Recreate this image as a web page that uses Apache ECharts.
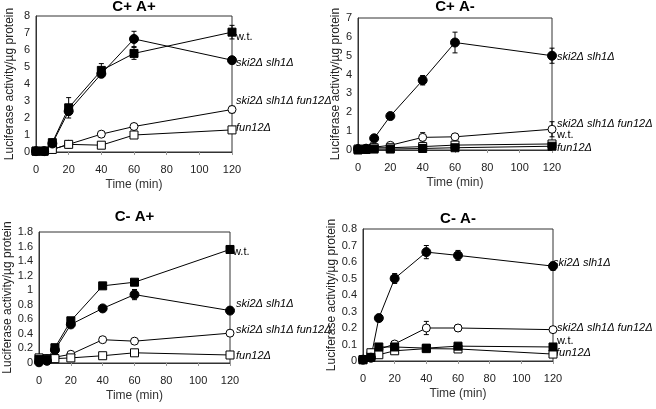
<!DOCTYPE html>
<html>
<head>
<meta charset="utf-8">
<script src="https://cdn.jsdelivr.net/npm/echarts@6/dist/echarts.min.js"></script>
<style>
html,body{margin:0;padding:0;background:#fff}
#main{width:656px;height:409px}
</style>
</head>
<body>
<div id="main"></div>
<script>
// sampling times (min), shared by all panels
const times = [0, 5, 10, 20, 40, 60, 120];

// C+ A+
const cpapWt = [0.05, 0.05, 0.55, 2.6, 4.8, 5.8, 7.05];
const cpapWtErr = [0, 0, 0.1, 0.6, 0.4, 0.35, 0.4];
const cpapSki = [0.05, 0.05, 0.5, 2.4, 4.6, 6.65, 5.4];
const cpapSkiErr = [0, 0, 0.05, 0.2, 0.15, 0.45, 0.15];
const cpapSkiFun = [0.05, 0.05, 0.15, 0.45, 1.05, 1.5, 2.5];
const cpapSkiFunErr = [0, 0, 0.05, 0.1, 0.1, 0.1, 0.2];
const cpapFun = [0.05, 0.05, 0.15, 0.45, 0.4, 1.0, 1.3];
const cpapFunErr = [0, 0, 0.05, 0.1, 0.1, 0.15, 0.15];

// C+ A-
const cpamWt = [0.0, 0.03, 0.05, 0.05, 0.08, 0.12, 0.2];
const cpamWtErr = [0, 0, 0.02, 0.02, 0.03, 0.03, 0.05];
const cpamSki = [0.05, 0.05, 0.62, 1.8, 3.7, 5.7, 5.0];
const cpamSkiErr = [0, 0, 0.05, 0.1, 0.25, 0.55, 0.4];
const cpamSkiFun = [0.05, 0.1, 0.15, 0.25, 0.67, 0.7, 1.1];
const cpamSkiFunErr = [0, 0, 0.05, 0.05, 0.25, 0.15, 0.4];
const cpamFun = [0.05, 0.05, 0.12, 0.12, 0.18, 0.26, 0.32];
const cpamFunErr = [0, 0, 0.02, 0.02, 0.03, 0.03, 0.05];

// C- A+
const cmapWt = [0.05, 0.05, 0.21, 0.58, 1.06, 1.11, 1.56];
const cmapWtErr = [0, 0, 0.03, 0.02, 0.03, 0.03, 0.05];
const cmapSki = [0.01, 0.03, 0.18, 0.53, 0.75, 0.94, 0.72];
const cmapSkiErr = [0, 0, 0.02, 0.02, 0.04, 0.07, 0.04];
const cmapSkiFun = [0.05, 0.06, 0.08, 0.12, 0.32, 0.30, 0.41];
const cmapSkiFunErr = [0, 0, 0.01, 0.02, 0.02, 0.02, 0.02];
const cmapFun = [0.07, 0.06, 0.06, 0.07, 0.1, 0.14, 0.11];
const cmapFunErr = [0, 0, 0.01, 0.01, 0.01, 0.01, 0.01];

// C- A-
const cmamWt = [0.008, 0.022, 0.085, 0.085, 0.078, 0.09, 0.085];
const cmamWtErr = [0, 0, 0.005, 0.005, 0.005, 0.005, 0.005];
const cmamSki = [0.008, 0.02, 0.26, 0.5, 0.66, 0.64, 0.575];
const cmamSkiErr = [0, 0, 0.01, 0.03, 0.04, 0.03, 0.025];
const cmamSkiFun = [0.008, 0.05, 0.07, 0.103, 0.2, 0.2, 0.19];
const cmamSkiFunErr = [0, 0, 0.01, 0.01, 0.04, 0.02, 0.015];
const cmamFun = [0.008, 0.05, 0.038, 0.062, 0.075, 0.073, 0.042];
const cmamFunErr = [0, 0, 0.005, 0.005, 0.01, 0.01, 0.01];

const panelTitles = ['C+ A+', 'C+ A-', 'C- A+', 'C- A-'];
const yMax = [8, 7, 1.8, 0.8];
const yStep = [1, 1, 0.2, 0.1];

const FONT = '"Liberation Sans", Arial, sans-serif';

// where each panel sits (pixels)
const boxes = [
	{left: 36, top: 16, width: 196, height: 136, yGap: 20, titleTop: -1},
	{left: 358, top: 18, width: 194, height: 132, yGap: 15, titleTop: -1},
	{left: 39, top: 232, width: 191, height: 131, yGap: 23, titleTop: 209},
	{left: 363, top: 229, width: 190, height: 132, yGap: 21, titleTop: 211}
];

const panelData = [
	{wt: cpapWt, wtE: cpapWtErr, ski: cpapSki, skiE: cpapSkiErr, skiFun: cpapSkiFun, skiFunE: cpapSkiFunErr, fun: cpapFun, funE: cpapFunErr},
	{wt: cpamWt, wtE: cpamWtErr, ski: cpamSki, skiE: cpamSkiErr, skiFun: cpamSkiFun, skiFunE: cpamSkiFunErr, fun: cpamFun, funE: cpamFunErr},
	{wt: cmapWt, wtE: cmapWtErr, ski: cmapSki, skiE: cmapSkiErr, skiFun: cmapSkiFun, skiFunE: cmapSkiFunErr, fun: cmapFun, funE: cmapFunErr},
	{wt: cmamWt, wtE: cmamWtErr, ski: cmamSki, skiE: cmamSkiErr, skiFun: cmamSkiFun, skiFunE: cmamSkiFunErr, fun: cmamFun, funE: cmamFunErr}
];

// right-hand curve labels: [text, italic, x, y]
const curveLabels = [
	[['w.t.', false, 236, 37], ['ski2\u0394 slh1\u0394', true, 236, 63], ['ski2\u0394 slh1\u0394 fun12\u0394', true, 236, 101], ['fun12\u0394', true, 236, 128]],
	[['ski2\u0394 slh1\u0394', true, 557, 57], ['ski2\u0394 slh1\u0394 fun12\u0394', true, 557, 124], ['w.t.', false, 557, 135], ['fun12\u0394', true, 557, 148]],
	[['w.t.', false, 233, 252], ['ski2\u0394 slh1\u0394', true, 236, 304], ['ski2\u0394 slh1\u0394 fun12\u0394', true, 236, 330], ['fun12\u0394', true, 236, 356]],
	[['ski2\u0394 slh1\u0394', true, 553, 263], ['ski2\u0394 slh1\u0394 fun12\u0394', true, 557, 328], ['w.t.', false, 557, 341], ['fun12\u0394', true, 556, 353]]
];

function pairs(vals){ return times.map((t,i)=>[t, vals[i]]); }
function errTriples(vals, errs){
	const out = [];
	times.forEach((t,i)=>{ if(errs[i] > 0) out.push([t, vals[i]-errs[i], vals[i]+errs[i]]); });
	return out;
}
function errRender(params, api){
	const x = api.value(0);
	const top = api.coord([x, api.value(2)]);
	const bot = api.coord([x, api.value(1)]);
	const w = 2.5, st = {stroke: '#000', lineWidth: 1};
	return {type: 'group', children: [
		{type: 'line', shape: {x1: top[0], y1: top[1], x2: bot[0], y2: bot[1]}, style: st},
		{type: 'line', shape: {x1: top[0]-w, y1: top[1], x2: top[0]+w, y2: top[1]}, style: st},
		{type: 'line', shape: {x1: bot[0]-w, y1: bot[1], x2: bot[0]+w, y2: bot[1]}, style: st}
	]};
}

const kinds = [
	{key: 'skiFun', symbol: 'circle', size: 8, fill: '#fff'},
	{key: 'fun', symbol: 'rect', size: 8, fill: '#fff'},
	{key: 'ski', symbol: 'circle', size: 9, fill: '#000'},
	{key: 'wt', symbol: 'rect', size: 8, fill: '#000'}
];

const grid = [], xAxis = [], yAxis = [], series = [], title = [], graphic = [];
boxes.forEach((b,p)=>{
	grid.push({left: b.left, top: b.top, width: b.width, height: b.height, show: true, borderColor: '#333', borderWidth: 1});
	title.push({text: panelTitles[p], left: b.left + b.width/2, top: b.titleTop, textAlign: 'center', padding: 0,
		textStyle: {fontFamily: FONT, fontSize: 15, fontWeight: 'bold', color: '#000'}});
	xAxis.push({type: 'value', gridIndex: p, min: 0, max: 120, interval: 20,
		name: 'Time (min)', nameLocation: 'middle', nameGap: 27,
		nameTextStyle: {fontFamily: FONT, fontSize: 12, fontWeight: 'normal', color: '#333'},
		axisLine: {lineStyle: {color: '#333'}}, axisTick: {show: true, length: 3, lineStyle: {color: '#999'}},
		axisLabel: {fontFamily: FONT, fontSize: 11, color: '#222', margin: 12},
		splitLine: {show: false}});
	yAxis.push({type: 'value', gridIndex: p, min: 0, max: yMax[p], interval: yStep[p],
		name: 'Luciferase activity/\u00b5g protein', nameLocation: 'middle', nameGap: b.yGap,
		nameTextStyle: {fontFamily: FONT, fontSize: 12, fontWeight: 'normal', color: '#222'},
		axisLine: {show: true, lineStyle: {color: '#333'}}, axisTick: {show: false},
		axisLabel: {fontFamily: FONT, fontSize: 11, color: '#222', margin: 6},
		splitLine: {show: false}});
	const d = panelData[p];
	kinds.forEach(k=>{
		series.push({type: 'custom', xAxisIndex: p, yAxisIndex: p, renderItem: errRender,
			encode: {x: 0, y: [1, 2]}, data: errTriples(d[k.key], d[k.key+'E']), z: 2, clip: false, silent: true});
	});
	kinds.forEach(k=>{
		series.push({type: 'line', xAxisIndex: p, yAxisIndex: p, data: pairs(d[k.key]),
			symbol: k.symbol, symbolSize: k.size, showAllSymbol: true, clip: false, z: 3,
			lineStyle: {color: '#000', width: 1},
			itemStyle: {color: k.fill, borderColor: '#000', borderWidth: 1},
			emphasis: {disabled: true}, animation: false});
	});
	curveLabels[p].forEach(l=>{
		graphic.push({type: 'text', x: l[2], y: l[3], silent: true,
			style: {text: l[0], fill: '#000', verticalAlign: 'middle',
				font: (l[1] ? 'italic ' : '') + '11px ' + FONT}});
	});
});

const chart = echarts.init(document.getElementById('main'), null, {renderer: 'canvas'});
chart.setOption({animation: false, backgroundColor: '#fff', title, grid, xAxis, yAxis, series, graphic});
</script>
</body>
</html>
